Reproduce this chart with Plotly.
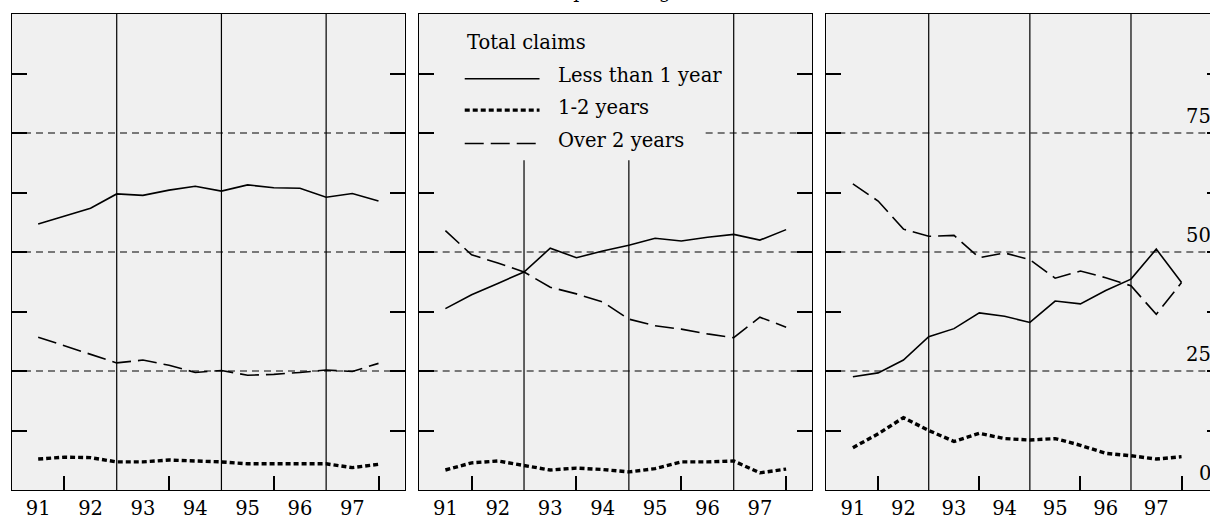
import plotly.graph_objects as go

# ---- data (half-yearly observations, 1991H1 .. 1997H2) ----
year_labels = ['91', '92', '93', '94', '95', '96', '97']
year_positions = [0, 2, 4, 6, 8, 10, 12]
periods = list(range(14))

p1_less1 = [55.9, 57.5, 59.2, 62.2, 61.9, 63.0, 63.8, 62.8, 64.1, 63.5, 63.4, 61.5, 62.3, 60.7]
p1_1to2 = [6.5, 6.9, 6.8, 5.9, 5.9, 6.3, 6.1, 5.9, 5.5, 5.5, 5.6, 5.5, 4.7, 5.4]
p1_over2 = [32.1, 30.3, 28.5, 26.7, 27.3, 26.2, 24.7, 25.1, 24.1, 24.3, 24.7, 25.2, 24.9, 26.6]

p2_less1 = [38.1, 41.0, 43.4, 45.8, 50.8, 48.8, 50.2, 51.4, 52.9, 52.3, 53.1, 53.7, 52.5, 54.7]
p2_1to2 = [4.2, 5.7, 6.1, 5.2, 4.2, 4.6, 4.3, 3.8, 4.5, 5.9, 5.9, 6.1, 3.6, 4.4]
p2_over2 = [54.5, 49.4, 47.7, 45.8, 42.6, 41.2, 39.5, 35.9, 34.5, 33.8, 32.8, 32.0, 36.3, 34.2]

p3_less1 = [23.8, 24.6, 27.3, 32.2, 33.9, 37.2, 36.5, 35.2, 39.7, 39.1, 41.9, 44.3, 50.6, 43.6]
p3_1to2 = [8.9, 11.8, 15.2, 12.5, 10.2, 11.9, 10.8, 10.5, 10.8, 9.4, 7.7, 7.2, 6.5, 7.0]
p3_over2 = [64.3, 60.7, 54.8, 53.3, 53.5, 48.8, 49.8, 48.4, 44.5, 46.0, 44.6, 42.9, 36.9, 43.6]

series_names = ['Less than 1 year', '1-2 years', 'Over 2 years']
right_labels = [0, 25, 50, 75]
grid_values = [25, 50, 75]
ytick_values = [0, 12.5, 25, 37.5, 50, 62.5, 75, 87.5, 100]
divider_positions = [3, 7, 11]
minor_tick_positions = [1, 5, 9, 13]

panels = [
    (p1_less1, p1_1to2, p1_over2),
    (p2_less1, p2_1to2, p2_over2),
    (p3_less1, p3_1to2, p3_over2),
]

FONT = 'DejaVu Serif'
styles = [
    dict(color='black', width=1.6),
    dict(color='black', width=3.4, dash='5px,3px'),
    dict(color='black', width=1.6, dash='19px,7px'),
]

fig = go.Figure()
for i, pdata in enumerate(panels):
    ax = '' if i == 0 else str(i + 1)
    for name, vals, st in zip(series_names, pdata, styles):
        fig.add_trace(go.Scatter(x=periods, y=vals, mode='lines', name=name,
                                 line=st, xaxis='x' + ax, yaxis='y' + ax,
                                 showlegend=False, hoverinfo='skip'))

W, H = 1225, 522
ML, MR, MT, MB = 12, 2, 14, 22
plot_w = W - ML - MR
doms = [(12, 405), (419, 813), (827, 1223)]
xranges = [[-1, 14], [-1.02, 14.0], [-1.05, 14.6]]

layout = dict(
    width=W, height=H,
    margin=dict(l=ML, r=MR, t=MT, b=MB),
    paper_bgcolor='white', plot_bgcolor='#f0f0f0',
    font=dict(family=FONT, color='black', size=19),
    showlegend=False,
)
for i in range(3):
    ax = '' if i == 0 else str(i + 1)
    d0 = (doms[i][0] - ML) / plot_w
    d1 = (doms[i][1] - ML) / plot_w
    layout['xaxis' + ax] = dict(
        domain=[d0, min(d1, 1)], range=xranges[i], anchor='y' + ax,
        tickmode='array', tickvals=year_positions, ticktext=year_labels,
        ticks='', showgrid=False, zeroline=False,
        showline=True, linecolor='black', linewidth=1.3, mirror=True,
        tickfont=dict(family=FONT, size=19.5, color='black'),
        minor=dict(tickmode='array', tickvals=minor_tick_positions, ticks='inside',
                   ticklen=14, tickwidth=2, tickcolor='black', showgrid=False),
        fixedrange=True,
    )
    layout['yaxis' + ax] = dict(
        domain=[0, 1], range=[0, 100], anchor='x' + ax,
        tickmode='array', tickvals=ytick_values, ticks='inside', ticklen=15,
        tickwidth=2, tickcolor='black', showticklabels=False,
        showgrid=False, zeroline=False,
        showline=True, linecolor='black', linewidth=1.3, mirror='ticks',
        fixedrange=True,
    )
fig.update_layout(**layout)

# legend box region in panel 2 (covers grid/dividers): legend bottom value / right position
legend_bottom_val = 69.3
legend_right_x = 9.93

shapes = []
for i in range(3):
    ax = '' if i == 0 else str(i + 1)
    for g in grid_values:
        if i == 1 and g == 75:
            shapes.append(dict(type='line', xref='x2', yref='y2', x0=legend_right_x, x1=14,
                               y0=g, y1=g, layer='below',
                               line=dict(color='black', width=1.1, dash='7px,5px')))
        else:
            shapes.append(dict(type='line', xref='x' + ax + ' domain', yref='y' + ax,
                               x0=0, x1=1, y0=g, y1=g, layer='below',
                               line=dict(color='black', width=1.1, dash='7px,5px')))
    for d in divider_positions:
        top = legend_bottom_val if (i == 1 and d < legend_right_x) else 100
        shapes.append(dict(type='line', xref='x' + ax, yref='y' + ax,
                           x0=d, x1=d, y0=0, y1=top, layer='below',
                           line=dict(color='black', width=1.2)))

# legend samples (panel 2, domain coords)
leg_rows = [0.864, 0.798, 0.728]
leg_text_y = [0.871, 0.803, 0.735]
for st, yy in zip(styles, leg_rows):
    shapes.append(dict(type='line', xref='x2 domain', yref='y2 domain',
                       x0=0.117, x1=0.307, y0=yy, y1=yy, layer='above',
                       line=st))
fig.update_layout(shapes=shapes)

annotations = [
    dict(text='Total claims', xref='x2 domain', yref='y2 domain', x=0.118, y=0.940,
         xanchor='left', yanchor='middle', showarrow=False,
         font=dict(family=FONT, size=19.5, color='black')),
]
for name, yy in zip(series_names, leg_text_y):
    annotations.append(dict(text=name, xref='x2 domain', yref='y2 domain', x=0.350, y=yy,
                            xanchor='left', yanchor='middle', showarrow=False,
                            font=dict(family=FONT, size=19.5, color='black')))
for v in right_labels:
    annotations.append(dict(text=str(v), xref='x3 domain', yref='y3', x=0.976, y=v,
                            xanchor='right', yanchor='bottom', yshift=3, showarrow=False,
                            font=dict(family=FONT, size=19.5, color='black')))
# title (mostly cropped above the visible area, as in the reference)
annotations.append(dict(text='Duration of claims as a percentage of total',
                        xref='paper', yref='paper', x=(343 - ML) / plot_w, y=1 + (MT - 4) / (H - MT - MB),
                        xanchor='left', yanchor='bottom', showarrow=False,
                        font=dict(family=FONT, size=19, color='black')))
fig.update_layout(annotations=annotations)

fig.write_html('out.html', config={'displayModeBar': False},
               post_script="document.body.style.margin='0';document.body.style.overflow='hidden';")
